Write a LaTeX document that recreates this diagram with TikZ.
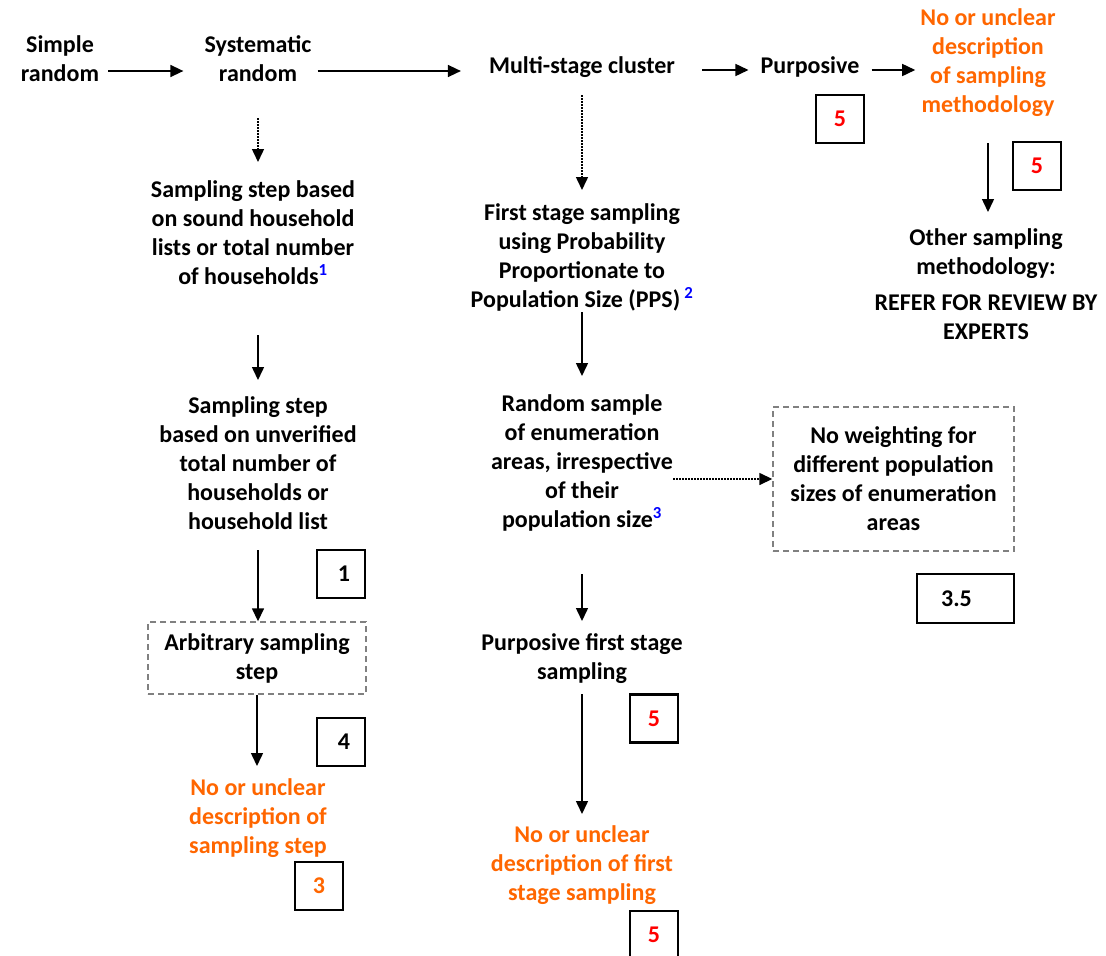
\documentclass[tikz,border=0pt]{standalone}
\usepackage{fontspec}
\setmainfont{Carlito}
\usetikzlibrary{arrows.meta}
\definecolor{warn}{HTML}{FF6600}
\definecolor{note}{HTML}{0000FF}
\definecolor{frame}{HTML}{808080}
\begin{document}
\begin{tikzpicture}[x=1pt,y=-1pt,
  every node/.style={font=\fontsize{24}{29}\selectfont\bfseries, align=center, inner sep=0pt},
  warnlbl/.style={text=warn},
  score/.style={draw, line width=2.8pt, minimum width=48pt, minimum height=48pt},
  arr/.style={line width=1.5pt, -{Triangle[length=13pt,width=12pt]}},
  dotarr/.style={arr, dash pattern=on 1.5pt off 1.5pt}
]
\tikzset{dashbox/.style={draw=frame, dash pattern=on 6pt off 4pt, line width=1.4pt}}
\useasboundingbox (0,0) rectangle (1106,956);

% top row of sampling designs
\node (simple) at (60,59) {Simple\\random};
\node (sys) at (258,59) {Systematic\\random};
\node (msc) at (582,67) {Multi-stage cluster};
\node (purp) at (810,67) {Purposive};
\node[warnlbl] (nou1) at (988,63) {No or unclear\\description\\of sampling\\methodology};
\node[score,text=red] (s1) at (840,119) {5};
\node[score,text=red] (s2) at (1037,166) {5};
\node (other) at (986,284) {Other sampling\\methodology:\\[7pt]REFER FOR REVIEW BY\\EXPERTS};

% systematic random branch
\node (ssb) at (253,233) {Sampling step based\\on sound household\\lists or total number\\of households\textsuperscript{\color{note}1}};
\node (ssu) at (258,463) {Sampling step\\based on unverified\\total number of\\households or\\household list};
\node[score] (b1) at (341,574) {\hspace*{6pt}1};
\node[dashbox, minimum width=218pt, minimum height=72pt] (arb) at (257,658) {Arbitrary sampling\\step};
\node[score] (b4) at (341,742) {\hspace*{6pt}4};
\node[warnlbl] (nou2) at (258,818) {No or unclear\\description of\\sampling step};
\node[score,text=warn] (b3) at (319,886) {3};

% multi-stage cluster branch
\node (fss) at (582,257) {First stage sampling\\using Probability\\Proportionate to\\Population Size (PPS)\,\textsuperscript{\color{note}2}};
\node (rs) at (582,463) {Random sample\\of enumeration\\areas, irrespective\\of their\\population size\textsuperscript{\color{note}3}};
\node[dashbox, minimum width=241pt, minimum height=144pt] (nw) at (893.5,479) {No weighting for\\different population\\sizes of enumeration\\areas};
\node[score, minimum width=97pt, minimum height=49pt] (b35) at (965.5,598.5) {3.5\hspace*{18pt}};
\node (pfs) at (582,659) {Purposive first stage\\sampling};
\node[score,text=red] (b5a) at (654,718.5) {5};
\node[warnlbl] (nou3) at (582,865) {No or unclear\\description of first\\stage sampling};
\node[score,text=red] (b5b) at (654,935) {5};

% horizontal connectors
\draw[arr, shorten <=9pt, shorten >=21pt] (simple.east |- 0,71) -- (sys.west |- 0,71);
\draw[arr, shorten <=6pt, shorten >=28pt] (sys.east |- 0,71) -- (msc.west |- 0,71);
\draw[arr, shorten <=27pt, shorten >=12pt] (msc.east |- 0,70) -- (purp.west |- 0,70);
\draw[arr, shorten <=12pt, shorten >=5pt] (purp.east |- 0,70) -- (nou1.west |- 0,70);
\draw[dotarr] (rs.east |- 0,479) -- (nw.west |- 0,479);

% vertical connectors
\draw[arr] (nou1.south |- 0,143) -- (nou1.south |- 0,212);
\draw[dotarr] (sys.south |- 0,118) -- (sys.south |- 0,162);
\draw[dotarr] (msc.south |- 0,95) -- (msc.south |- 0,190);
\draw[arr] (sys.south |- 0,335) -- (ssu.north |- 0,380);
\draw[arr] (fss.south |- 0,312) -- (rs.north |- 0,376);
\draw[arr] (ssu.south |- 0,550) -- (ssu.south |- arb.north);
\draw[arr] (arb.south) -- (arb.south |- 0,766);
\draw[arr] (rs.south |- 0,574) -- (pfs.north |- 0,621);
\draw[arr] (pfs.south |- 0,694) -- (pfs.south |- 0,814);
\end{tikzpicture}
\end{document}
